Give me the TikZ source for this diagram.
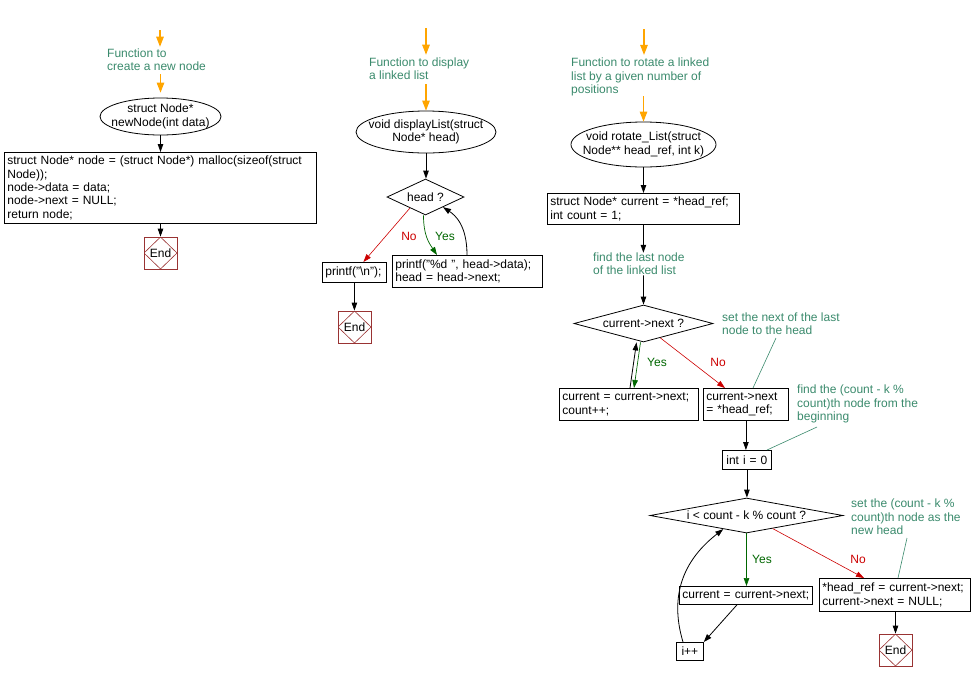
\documentclass[tikz,border=0pt]{standalone}
\usepackage{fontspec}
\setmainfont{Liberation Sans}
\usepackage{tikz}
\usetikzlibrary{shapes.geometric,arrows.meta,positioning,calc}
\definecolor{cmgreen}{RGB}{58,138,108}
\definecolor{yesgreen}{RGB}{0,102,0}
\definecolor{nored}{RGB}{204,0,0}
\definecolor{endred}{RGB}{153,51,51}
\definecolor{arrorange}{RGB}{255,165,0}
\newcommand{\chartfont}{\fontsize{12}{13.3}\selectfont}
\tikzset{
  PB/.style={draw, rectangle, align=left, anchor=north west,
             font=\chartfont, inner xsep=3pt, inner ysep=2pt, line width=0.8pt},
  TB/.style={draw, ellipse, inner sep=0pt, line width=0.8pt},
  DB/.style={draw, diamond, inner sep=0pt, font=\chartfont, line width=0.8pt},
  EB/.style={draw=endred, rectangle, minimum width=33pt, minimum height=32pt,
             inner sep=0pt, font=\chartfont, line width=0.8pt,
             path picture={\draw[endred, line width=0.6pt]
               (path picture bounding box.north) -- (path picture bounding box.east)
               -- (path picture bounding box.south) -- (path picture bounding box.west) -- cycle;}},
  SA/.style={-{Triangle[length=8pt,width=5.5pt]}, line width=0.8pt},
  OA/.style={-{Triangle[length=10pt,width=7.5pt]}, line width=1.1pt, arrorange}
}

\begin{document}
\begin{tikzpicture}[x=1pt, y=-1pt,
  LB/.style={align=center, font=\chartfont, inner sep=0pt},
  CM/.style={align=left, font=\chartfont, text=cmgreen, inner sep=0pt, anchor=west},
  CL/.style={cmgreen, line width=0.6pt},
  YA/.style={-{Triangle[length=8pt,width=5.5pt]}, line width=0.7pt, yesgreen},
  NA/.style={-{Triangle[length=8pt,width=5.5pt]}, line width=0.6pt, nored},
  YT/.style={font=\chartfont, text=yesgreen, inner sep=0pt},
  NT/.style={font=\chartfont, text=nored, inner sep=0pt}
]
\useasboundingbox (0,0) rectangle (975,681);

% newNode
\coordinate (o1) at (160,30);
\node[CM] (n1) at (107,60) {Function to\\create a new node};
\node[TB, minimum width=121, minimum height=37,
      label={[LB]center:struct Node*\\newNode(int data)}] (t1) at (160.5,116.5) {};
\node[PB, text width=306, minimum height=71] (b1) at (4,152)
    {struct Node* node = (struct Node*) malloc(sizeof(struct\\Node));\\node->data = data;\\node->next = NULL;\\return node;};
\node[EB] (e1) at (160.5,253) {End};

\draw[OA, shorten >=2pt] (o1) -- (o1 |- n1.north);
\draw[OA, shorten <=3pt, shorten >=5pt] (t1.north |- n1.south) -- (t1.north);
\draw[SA] (t1.south) -- (t1.south |- b1.north);
\draw[SA] (e1.north |- b1.south) -- (e1.north);

% displayList
\coordinate (o2) at (426,28);
\node[CM] (n2) at (369,69) {Function to display\\a linked list};
\node[TB, minimum width=140, minimum height=42,
      label={[LB]center:void displayList(struct\\Node* head)}] (t2) at (426,132) {};
\node[DB, minimum width=77, minimum height=36, aspect=2.1] (d1) at (425.5,197) {head ?};
\node[PB, text width=58, minimum height=20] (p1) at (322,262) {printf("\textbackslash n");};
\node[PB, text width=144, minimum height=32] (p2) at (392,255)
    {printf("\%d ", head->data);\\head = head->next;};
\node[EB] (e2) at (354.5,327) {End};
\node[NT] (x1) at (409,236) {No};
\node[YT] (y1) at (445,236) {Yes};

\draw[OA, shorten >=3pt] (o2) -- (o2 |- n2.north);
\draw[OA, shorten <=4pt] (t2.north |- n2.south) -- (t2.north);
\draw[SA] (t2.south) -- (t2.south |- d1.north);
\draw[NA] ($(d1.south)!0.4!(d1.west)$) -- ([xshift=9]p1.north);
\draw[YA] ([xshift=-2]d1.south) .. controls +(0,20) and +(-8,-12) .. ([xshift=45]p2.north west);
\draw[SA] ([xshift=75]p2.north west) .. controls +(0,-30) and +(12,8) .. ($(d1.south)!0.45!(d1.east)$);
\draw[SA] (p1.south) -- (p1.south |- e2.north);

% rotate_List
\coordinate (o3) at (644,29);
\node[CM] (n3) at (571,77) {Function to rotate a linked\\list by a given number of\\positions};
\node[TB, minimum width=145, minimum height=45,
      label={[LB]center:void rotate\_List(struct\\Node** head\_ref, int k)}] (t3) at (643.5,144.5) {};
\node[PB, text width=186, minimum height=31] (b3) at (547,193)
    {struct Node* current = *head\_ref;\\int count = 1;};
\node[CM] (n4) at (593,264) {find the last node\\of the linked list};
\node[DB, minimum width=139, minimum height=37, aspect=3.8] (d2) at (643.5,323.5) {current->next ?};
\node[PB, text width=133, minimum height=32] (c1) at (559,388) {current = current->next;\\count++;};
\node[PB, text width=79, minimum height=32] (c2) at (703,388) {current->next\\= *head\_ref;};
\node[CM] (n5) at (722,323.5) {set the next of the last\\node to the head};
\node[CM] (n6) at (797,404) {find the (count - k \%\\count)th node from the\\beginning};
\node[PB, text width=43, minimum height=19, align=center] (c3) at (722,450) {int i = 0};
\node[DB, minimum width=193, minimum height=35, aspect=5.5] (d3) at (746.5,515.5) {i < count - k \% count ?};
\node[PB, text width=127, minimum height=18] (c4) at (679,586) {current = current->next;};
\node[PB, text width=145, minimum height=33] (c5) at (819,578)
    {*head\_ref = current->next;\\current->next = NULL;};
\node[PB, text width=21, minimum height=18, align=center] (c6) at (676,642) {i++};
\node[CM] (n7) at (851,517) {set the (count - k \%\\count)th node as the\\new head};
\node[EB] (e3) at (895.5,650) {End};
\node[YT] (y2) at (657,362) {Yes};
\node[NT] (x2) at (718,362) {No};
\node[YT] (y3) at (762,559) {Yes};
\node[NT] (x3) at (858,559) {No};
\coordinate (k1) at (776,338);
\coordinate (k2) at (817,427);
\coordinate (k3) at (907,538);

\draw[OA, shorten >=3pt] (o3) -- (o3 |- n3.north);
\draw[OA] (t3.north |- n3.south) -- (t3.north);
\draw[SA] (t3.south) -- (t3.south |- b3.north);
\draw[SA] (b3.south) -- (b3.south |- n4.north);
\draw[SA] (b3.south |- n4.south) -- (d2.north);
\draw[YA] ([xshift=-3]d2.south) -- ([xshift=75]c1.north west);
\draw[SA] ([xshift=71]c1.north west) -- ([xshift=-7]d2.south);
\draw[NA] ($(d2.south)!0.24!(d2.east)$) -- ([xshift=22]c2.north west);
\draw[CL] (k1) -- ([xshift=50]c2.north west);
\draw[SA] (c2.south) -- (c2.south |- c3.north);
\draw[CL] (k2) -- ([xshift=45]c3.north west);
\draw[SA] (c3.south) -- (c3.south |- d3.north);
\draw[YA] (d3.south) -- (d3.south |- c4.north);
\draw[NA] ($(d3.south)!0.27!(d3.east)$) -- ([xshift=45]c5.north west);
\draw[CL] (k3) -- ([xshift=79]c5.north west);
\draw[SA] (e3.north |- c5.south) -- (e3.north);
\draw[SA] ([xshift=58]c4.south west) -- (c6.north east);
\draw[SA] ([xshift=7]c6.north west) .. controls +(-12,-40) and +(-45,35) .. ($(d3.south)!0.24!(d3.west)$);

\end{tikzpicture}
\end{document}
